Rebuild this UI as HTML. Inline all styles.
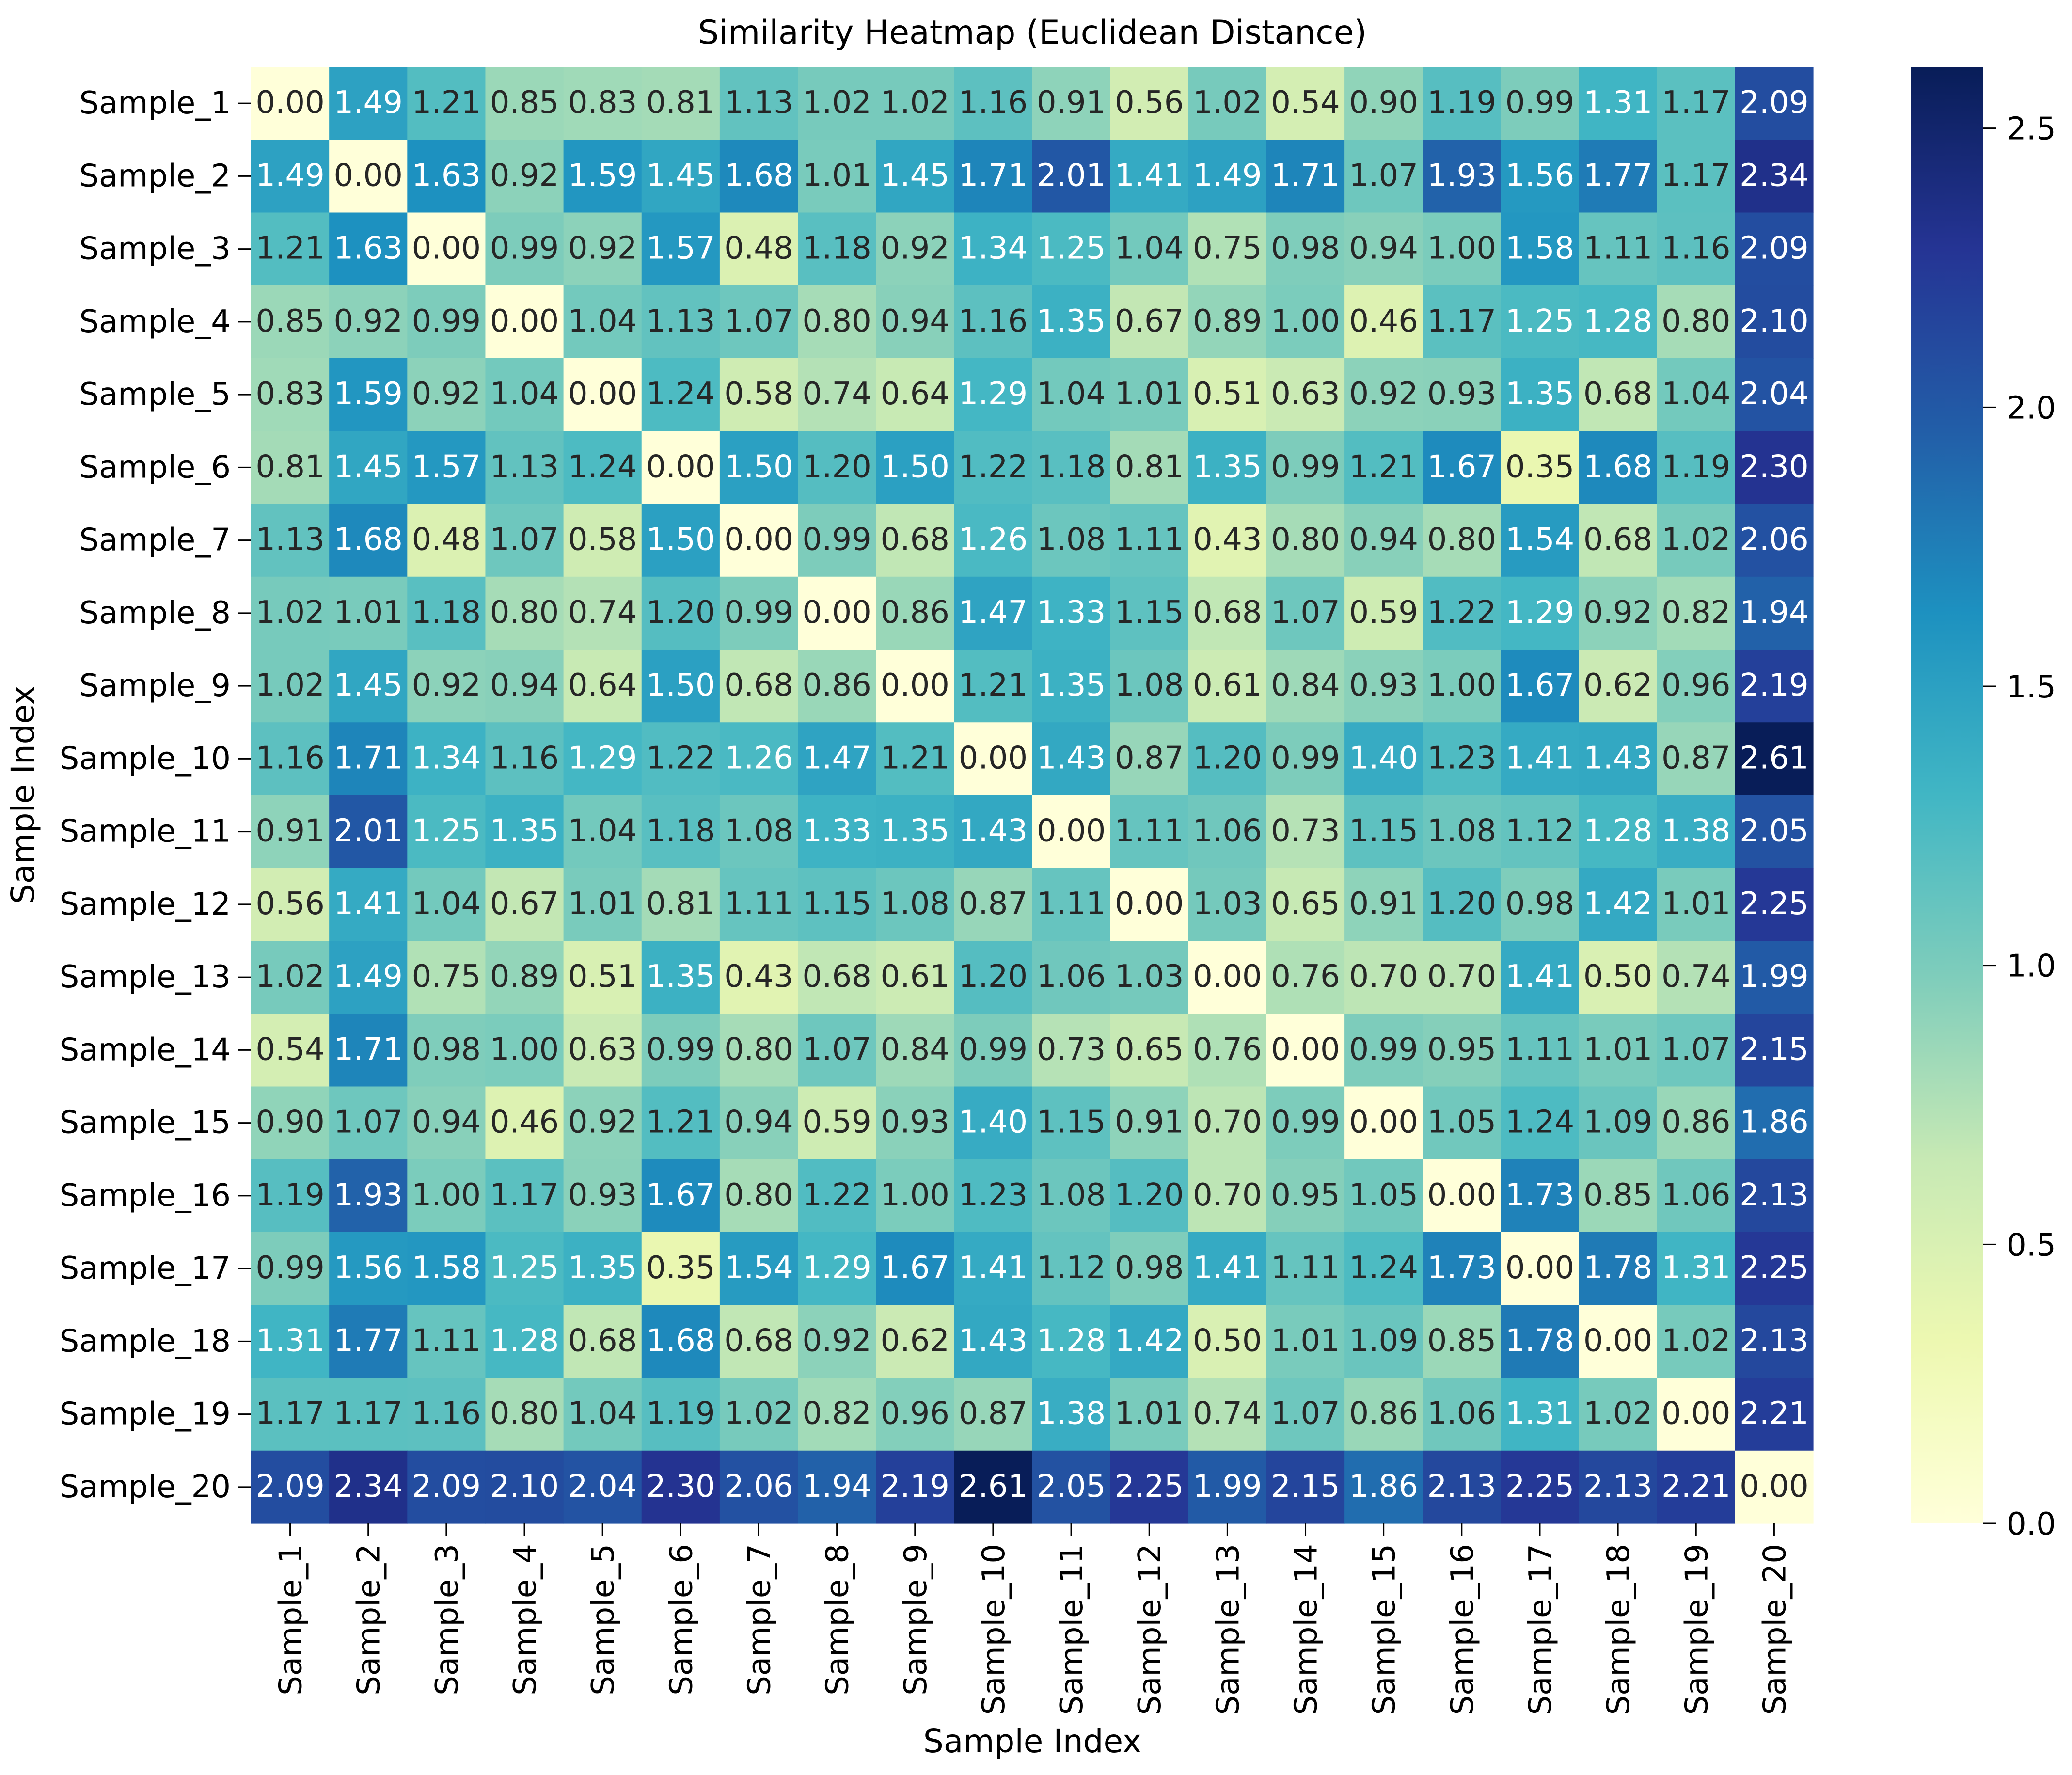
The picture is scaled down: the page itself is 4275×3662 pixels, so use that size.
<!DOCTYPE html>
<html><head><meta charset="utf-8">
<style>
html,body{margin:0;padding:0;background:#fff;}
svg{display:block;font-family:"DejaVu Sans","Liberation Sans",sans-serif;}
</style></head>
<body>
<svg id="chart" width="4275" height="3662" xmlns="http://www.w3.org/2000/svg">
<defs><linearGradient id="cbgrad" x1="0" y1="1" x2="0" y2="0"></linearGradient></defs>
<text x="2130" y="90" font-size="68" text-anchor="middle" fill="#000">Similarity Heatmap (Euclidean Distance)</text>
<text x="2130" y="3615" font-size="66" text-anchor="middle" fill="#000">Sample Index</text>
<text transform="translate(70,1640) rotate(-90)" font-size="66" text-anchor="middle" fill="#000">Sample Index</text>
<g id="cells"></g><g id="ylabels"></g><g id="xlabels"></g><g id="cbar"></g>
</svg>
<script>
const labels = Array.from({length:20},(_,i)=>'Sample_'+(i+1));
const row1=[0.00,1.49,1.21,0.85,0.83,0.81,1.13,1.02,1.02,1.16,0.91,0.56,1.02,0.54,0.90,1.19,0.99,1.31,1.17,2.09];
const row2=[1.49,0.00,1.63,0.92,1.59,1.45,1.68,1.01,1.45,1.71,2.01,1.41,1.49,1.71,1.07,1.93,1.56,1.77,1.17,2.34];
const row3=[1.21,1.63,0.00,0.99,0.92,1.57,0.48,1.18,0.92,1.34,1.25,1.04,0.75,0.98,0.94,1.00,1.58,1.11,1.16,2.09];
const row4=[0.85,0.92,0.99,0.00,1.04,1.13,1.07,0.80,0.94,1.16,1.35,0.67,0.89,1.00,0.46,1.17,1.25,1.28,0.80,2.10];
const row5=[0.83,1.59,0.92,1.04,0.00,1.24,0.58,0.74,0.64,1.29,1.04,1.01,0.51,0.63,0.92,0.93,1.35,0.68,1.04,2.04];
const row6=[0.81,1.45,1.57,1.13,1.24,0.00,1.50,1.20,1.50,1.22,1.18,0.81,1.35,0.99,1.21,1.67,0.35,1.68,1.19,2.30];
const row7=[1.13,1.68,0.48,1.07,0.58,1.50,0.00,0.99,0.68,1.26,1.08,1.11,0.43,0.80,0.94,0.80,1.54,0.68,1.02,2.06];
const row8=[1.02,1.01,1.18,0.80,0.74,1.20,0.99,0.00,0.86,1.47,1.33,1.15,0.68,1.07,0.59,1.22,1.29,0.92,0.82,1.94];
const row9=[1.02,1.45,0.92,0.94,0.64,1.50,0.68,0.86,0.00,1.21,1.35,1.08,0.61,0.84,0.93,1.00,1.67,0.62,0.96,2.19];
const row10=[1.16,1.71,1.34,1.16,1.29,1.22,1.26,1.47,1.21,0.00,1.43,0.87,1.20,0.99,1.40,1.23,1.41,1.43,0.87,2.61];
const row11=[0.91,2.01,1.25,1.35,1.04,1.18,1.08,1.33,1.35,1.43,0.00,1.11,1.06,0.73,1.15,1.08,1.12,1.28,1.38,2.05];
const row12=[0.56,1.41,1.04,0.67,1.01,0.81,1.11,1.15,1.08,0.87,1.11,0.00,1.03,0.65,0.91,1.20,0.98,1.42,1.01,2.25];
const row13=[1.02,1.49,0.75,0.89,0.51,1.35,0.43,0.68,0.61,1.20,1.06,1.03,0.00,0.76,0.70,0.70,1.41,0.50,0.74,1.99];
const row14=[0.54,1.71,0.98,1.00,0.63,0.99,0.80,1.07,0.84,0.99,0.73,0.65,0.76,0.00,0.99,0.95,1.11,1.01,1.07,2.15];
const row15=[0.90,1.07,0.94,0.46,0.92,1.21,0.94,0.59,0.93,1.40,1.15,0.91,0.70,0.99,0.00,1.05,1.24,1.09,0.86,1.86];
const row16=[1.19,1.93,1.00,1.17,0.93,1.67,0.80,1.22,1.00,1.23,1.08,1.20,0.70,0.95,1.05,0.00,1.73,0.85,1.06,2.13];
const row17=[0.99,1.56,1.58,1.25,1.35,0.35,1.54,1.29,1.67,1.41,1.12,0.98,1.41,1.11,1.24,1.73,0.00,1.78,1.31,2.25];
const row18=[1.31,1.77,1.11,1.28,0.68,1.68,0.68,0.92,0.62,1.43,1.28,1.42,0.50,1.01,1.09,0.85,1.78,0.00,1.02,2.13];
const row19=[1.17,1.17,1.16,0.80,1.04,1.19,1.02,0.82,0.96,0.87,1.38,1.01,0.74,1.07,0.86,1.06,1.31,1.02,0.00,2.21];
const row20=[2.09,2.34,2.09,2.10,2.04,2.30,2.06,1.94,2.19,2.61,2.05,2.25,1.99,2.15,1.86,2.13,2.25,2.13,2.21,0.00];
const matrix=[row1,row2,row3,row4,row5,row6,row7,row8,row9,row10,row11,row12,row13,row14,row15,row16,row17,row18,row19,row20];
const cbTicks=[0.0,0.5,1.0,1.5,2.0,2.5];
const vmin=0, vmax=Math.max(...matrix.flat());

const NS='http://www.w3.org/2000/svg';
const L=518,R=3741,T=138,B=3143;
const n=labels.length, cw=(R-L)/n, ch=(B-T)/n;
const xs=i=>L+i*cw, ys=i=>T+i*ch;
const stops=['#ffffd9','#edf8b1','#c7e9b4','#7fcdbb','#41b6c4','#1d91c0','#225ea8','#253494','#081d58'].map(h=>[1,3,5].map(k=>parseInt(h.substr(k,2),16)));
function cmap(t){t=Math.max(0,Math.min(1,t));const p=t*(stops.length-1),i=Math.min(Math.floor(p),stops.length-2),f=p-i;return stops[i].map((a,k)=>a+(stops[i+1][k]-a)*f);}
function rgb(c){return 'rgb('+c.map(Math.round).join(',')+')';}
function lum(c){const l=c.map(v=>{v/=255;return v<=0.03928?v/12.92:Math.pow((v+0.055)/1.055,2.4);});return 0.2126*l[0]+0.7152*l[1]+0.0722*l[2];}
function el(tag,attrs,parent){const e=document.createElementNS(NS,tag);for(const k in attrs)e.setAttribute(k,attrs[k]);parent.appendChild(e);return e;}
const cells=document.getElementById('cells');
matrix.forEach((row,r)=>row.forEach((v,c)=>{
  const col=cmap((v-vmin)/(vmax-vmin));
  const rect=el('rect',{x:xs(c),y:ys(r),width:cw+0.6,height:ch+0.6,fill:rgb(col)},cells);
  
  
  const t=el('text',{x:xs(c)+cw/2,y:ys(r)+ch/2+20,'font-size':64,'text-anchor':'middle',fill:lum(col)>0.408?'#262626':'#ffffff'},cells);
  
  
  t.textContent=v.toFixed(2);
}));
const yl=document.getElementById('ylabels'), xl=document.getElementById('xlabels');
labels.forEach((lab,i)=>{
  const yc=ys(i)+ch/2;
  el('line',{x1:L-26,x2:L,y1:yc,y2:yc,stroke:'#000','stroke-width':3},yl);
  const t=el('text',{x:L-42,y:yc+21,'font-size':64,'text-anchor':'end',fill:'#000'},yl);
  
  
  t.textContent=lab;
  const xc=xs(i)+cw/2;
  el('line',{x1:xc,x2:xc,y1:B,y2:B+26,stroke:'#000','stroke-width':3},xl);
  const u=el('text',{transform:'translate('+(xc+23)+','+(B+42)+') rotate(-90)','font-size':64,'text-anchor':'end',fill:'#000'},xl);
  
  
  u.textContent=lab;
});
const grad=document.getElementById('cbgrad');
for(let k=0;k<=16;k++){el('stop',{offset:(k/16),'stop-color':rgb(cmap(k/16))},grad);}
const cb=document.getElementById('cbar');
const CBL=3943,CBR=4092;
const cbr=el('rect',{x:CBL,y:T,width:CBR-CBL,height:B-T,fill:'url(#cbgrad)'},cb);


const cy=v=>B-(v-vmin)/(vmax-vmin)*(B-T);
cbTicks.forEach(v=>{
  el('line',{x1:CBR,x2:CBR+26,y1:cy(v),y2:cy(v),stroke:'#000','stroke-width':3},cb);
  const t=el('text',{x:CBR+48,y:cy(v)+23,'font-size':64,fill:'#000'},cb);
  
  
  t.textContent=v.toFixed(1);
});
</script>
</body></html>
